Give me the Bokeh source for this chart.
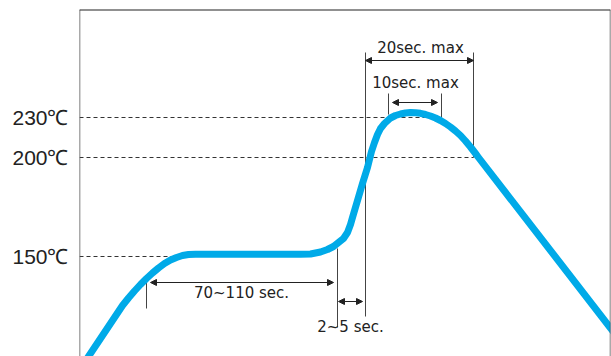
from bokeh.plotting import figure
from bokeh.models import Range1d, FixedTicker, Span, Arrow, NormalHead, ColumnDataSource
from bokeh.core.properties import value
from bokeh.embed import file_html
from bokeh.resources import INLINE

# ---- data (schematic chart units) ----
profile_t = [78, 88, 97, 106, 115, 122, 128, 134, 140, 146, 152, 158, 164, 170, 176, 182, 188, 195,
             300, 310, 320, 327, 333, 338, 343, 347, 350, 352, 357, 362, 367, 371, 374, 377, 380,
             384, 390, 395, 400, 405, 410, 415, 420, 425, 430, 435, 440, 445, 450, 455, 460, 465,
             470, 475, 478, 615]
profile_temp = [-15, 0, 13.5, 27, 40.5, 51, 58.5, 65.5, 72, 78, 83.5, 88.5, 93, 96.5, 99, 101, 102, 102.2,
                102.2, 102.5, 104.5, 107, 110, 114, 118, 124, 132, 139, 156, 173, 189, 205, 214, 222, 228,
                233, 238.5, 241, 242.5, 243.5, 244, 243.8, 243.2, 242, 240.5, 238.5, 236, 233, 229.5, 225.5,
                221, 215.5, 209.5, 203, 199, 22]

tick_levels = [100, 199, 239]
tick_labels = ["150℃", "200℃", "230℃"]

# reference (dashed) levels and where they end
ref_levels = [100, 199, 239]
ref_end = [180, 473, 441]

# vertical markers: x, y0, y1
mark_x = [146, 337, 365, 473, 388, 441]
mark_y0 = [48, 29, 40, 199, 242, 239]
mark_y1 = [74, 108, 304, 304, 263, 263]

# interval arrows: x0, x1, y
arr_x0 = [150, 338, 365, 392]
arr_x1 = [333, 362, 473, 437]
arr_y = [74, 55, 296, 254]

labels = ["70~110 sec.", "2~5 sec.", "20sec. max", "10sec. max"]
label_x = [241, 350, 420, 415]
label_y = [63.5, 29.5, 309, 273.5]

X0, X1 = 79, 610
Y0, Y1 = 0, 347

p = figure(width=611, height=356, x_range=Range1d(X0, X1), y_range=Range1d(Y0, Y1),
           output_backend="svg", toolbar_location=None, x_axis_type=None,
           min_border_left=79, min_border_right=1, min_border_top=9, min_border_bottom=0)
p.outline_line_color = None
p.grid.visible = False
p.background_fill_color = "white"
p.border_fill_color = "white"

ax = p.yaxis[0]
ax.ticker = FixedTicker(ticks=tick_levels)
ax.major_label_overrides = {k: v for k, v in zip(tick_levels, tick_labels)}
ax.axis_line_color = None
ax.major_tick_line_color = None
ax.minor_tick_line_color = None
ax.major_label_standoff = 5
ax.major_label_text_font = "Liberation Sans"
ax.major_label_text_font_size = "21px"
ax.major_label_text_color = "#222222"

# dashed reference lines
p.segment(x0=[X0] * len(ref_levels), y0=ref_levels, x1=ref_end, y1=ref_levels,
          line_color="#333333", line_width=1, line_dash="4 3")

# vertical markers
p.segment(x0=mark_x, y0=mark_y0, x1=mark_x, y1=mark_y1, line_color="#444444", line_width=1)

# profile curve
p.line(profile_t, profile_temp, line_color="#00AAE8", line_width=7, line_join="round")

# arrows
for a, b, y in zip(arr_x0, arr_x1, arr_y):
    p.add_layout(Arrow(x_start=a, y_start=y, x_end=b, y_end=y, line_color="#222222", line_width=1,
                       start=NormalHead(size=6, fill_color="#222222", line_color="#222222"),
                       end=NormalHead(size=6, fill_color="#222222", line_color="#222222")))

src = ColumnDataSource(dict(x=label_x, y=label_y, t=labels))
p.text(x="x", y="y", text="t", source=src, text_align="center", text_baseline="middle",
       text_font=value("DejaVu Sans"), text_font_size="15px", text_color="#222222")

# frame
p.add_layout(Span(location=X0, dimension="height", line_color="#555555", line_width=1.5))
p.add_layout(Span(location=X1, dimension="height", line_color="#555555", line_width=1.5))
p.add_layout(Span(location=Y1, dimension="width", line_color="#222222", line_width=2))

open("out.html", "w").write(file_html(p, INLINE))
